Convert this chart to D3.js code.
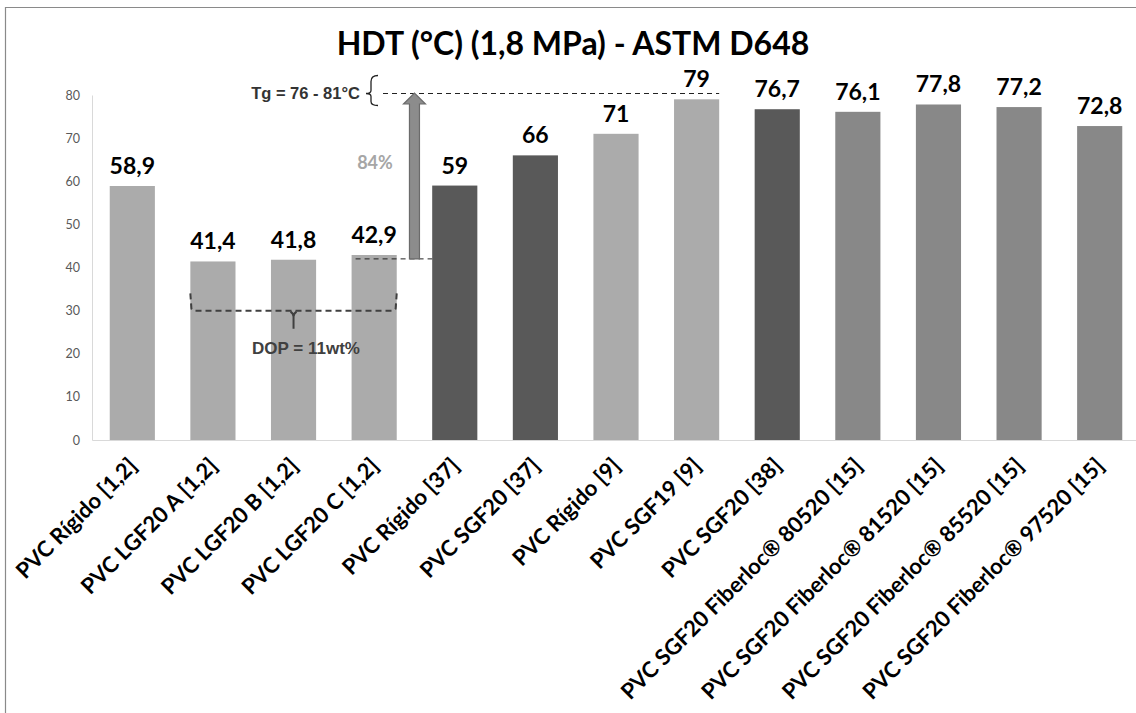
<!DOCTYPE html>
<html>
<head>
<meta charset="utf-8">
<script src="https://cdn.jsdelivr.net/npm/d3@7"></script>
<style>
  html, body { margin: 0; padding: 0; background: #fff; }
  svg { display: block; }
</style>
</head>
<body>
<svg id="chart" width="1136" height="713"></svg>
<script>
// ---- data ----
const categories = [
  "PVC Rígido [1,2]",
  "PVC LGF20 A [1,2]",
  "PVC LGF20 B [1,2]",
  "PVC LGF20 C [1,2]",
  "PVC Rígido [37]",
  "PVC SGF20 [37]",
  "PVC Rígido [9]",
  "PVC SGF19 [9]",
  "PVC SGF20 [38]",
  "PVC SGF20 Fiberloc® 80520 [15]",
  "PVC SGF20 Fiberloc® 81520 [15]",
  "PVC SGF20 Fiberloc® 85520 [15]",
  "PVC SGF20 Fiberloc® 97520 [15]"
];
const values = [58.9, 41.4, 41.8, 42.9, 59, 66, 71, 79, 76.7, 76.1, 77.8, 77.2, 72.8];
const valueLabels = ["58,9", "41,4", "41,8", "42,9", "59", "66", "71", "79", "76,7", "76,1", "77,8", "77,2", "72,8"];
const groups = ["light", "light", "light", "light", "dark", "dark", "light", "light", "dark", "medium", "medium", "medium", "medium"];
const yTicks = [0, 10, 20, 30, 40, 50, 60, 70, 80];
const titleText = "HDT (°C) (1,8 MPa) - ASTM D648";
const tgLabel = "Tg = 76 - 81°C";
const tgValue = 80;
const arrowFrom = 42;
const arrowLabel = "84%";
const dopLabel = "DOP = 11wt%";
const dopValue = 30;
const dopTop = 34;

// ---- layout ----
const svg = d3.select("#chart");
const W = 1136, H = 713;
const x0 = 92, x1 = 1140, yBase = 440, yTop = 95;

const x = d3.scaleBand().domain(categories).range([x0, x1]).paddingInner(0.44).paddingOuter(0.22);
const y = d3.scaleLinear().domain([0, 80]).range([yBase, yTop]);
const color = d3.scaleOrdinal().domain(["light", "dark", "medium"]).range(["#ababab", "#595959", "#888888"]);

const FONT = "Lato, 'Open Sans', sans-serif";
const ARIAL = "'Liberation Sans', Arial, sans-serif";

// frame
svg.append("path").attr("d", `M5.5,${H} V7.5 H${W}`).attr("fill", "none").attr("stroke", "#8a8a8a").attr("stroke-width", 1.2);

// title
svg.append("text").attr("x", 573).attr("y", 55).attr("text-anchor", "middle")
  .attr("font-family", FONT).attr("font-weight", "bold").attr("font-size", 32).attr("fill", "#000")
  .text(titleText);

// y axis
const yAxis = d3.axisLeft(y).tickValues(yTicks).tickSize(0).tickPadding(12);
const gy = svg.append("g").attr("transform", `translate(${x0},0)`).call(yAxis);
gy.select(".domain").attr("stroke", "#d9d9d9");
gy.selectAll("text").attr("font-family", FONT).attr("font-size", 12.5).attr("fill", "#595959");

// bars
svg.append("g").selectAll("rect").data(values).join("rect")
  .attr("x", (d, i) => x(categories[i]))
  .attr("y", d => y(d))
  .attr("width", x.bandwidth())
  .attr("height", d => y(0) - y(d))
  .attr("fill", (d, i) => color(groups[i]));

// x axis
const xAxis = d3.axisBottom(x).tickSize(0).tickFormat(() => "");
const gx = svg.append("g").attr("transform", `translate(0,${yBase})`).call(xAxis);
gx.select(".domain").attr("stroke", "#d9d9d9");

// x labels
svg.append("g").selectAll("text").data(categories).join("text")
  .attr("transform", d => `translate(${x(d) + x.bandwidth() / 2 + 6},${yBase + 27}) rotate(-45)`)
  .attr("text-anchor", "end")
  .attr("font-family", FONT).attr("font-weight", "bold").attr("font-size", 22).attr("fill", "#000")
  .text(d => d);

// value labels
svg.append("g").selectAll("text").data(values).join("text")
  .attr("x", (d, i) => x(categories[i]) + x.bandwidth() / 2)
  .attr("y", d => y(d) - 12)
  .attr("text-anchor", "middle")
  .attr("font-family", FONT).attr("font-weight", "bold").attr("font-size", 23).attr("fill", "#000")
  .text((d, i) => valueLabels[i]);

// ---- annotations ----
const ann = svg.append("g");
const c4 = x(categories[3]), c5 = x(categories[4]);
const arrowX = (c4 + x.bandwidth() + c5) / 2;

// Tg dashed line
const by = y(tgValue) - 1.5;
ann.append("line").attr("x1", 383).attr("x2", x(categories[7]) + x.bandwidth())
  .attr("y1", by).attr("y2", by)
  .attr("stroke", "#222").attr("stroke-width", 1).attr("stroke-dasharray", "5,4");
// brace
ann.append("path")
  .attr("d", `M378,${by - 18} Q371,${by - 18} 371,${by - 12} L371,${by - 3} Q371,${by} 366,${by} Q371,${by} 371,${by + 3} L371,${by + 8} Q371,${by + 12} 378,${by + 12}`)
  .attr("fill", "none").attr("stroke", "#222").attr("stroke-width", 1.3);
ann.append("text").attr("x", 360).attr("y", by + 5.5).attr("text-anchor", "end")
  .attr("font-family", ARIAL).attr("font-weight", "bold").attr("font-size", 16.5).attr("fill", "#333")
  .text(tgLabel);

// lower dashed line at arrow start
ann.append("line").attr("x1", c4 + 4).attr("x2", c5)
  .attr("y1", y(arrowFrom)).attr("y2", y(arrowFrom))
  .attr("stroke", "#222").attr("stroke-width", 1).attr("stroke-dasharray", "5,4");

// arrow
const yA0 = y(arrowFrom), yA1 = y(tgValue) - 2;
const sw = 5, hw = 11, hh = 11;
ann.append("path")
  .attr("d", `M${arrowX - sw},${yA0} V${yA1 + hh} H${arrowX - hw} L${arrowX},${yA1} L${arrowX + hw},${yA1 + hh} H${arrowX + sw} V${yA0} Z`)
  .attr("fill", "#8c8c8c").attr("stroke", "#6b6b6b").attr("stroke-width", 1.2);
ann.append("text").attr("x", 375).attr("y", 169).attr("text-anchor", "middle")
  .attr("font-family", FONT).attr("font-weight", "bold").attr("font-size", 18).attr("fill", "#a6a6a6")
  .text(arrowLabel);

// DOP bracket
const dx0 = x(categories[1]), dx1 = x(categories[3]) + x.bandwidth();
const dy = y(dopValue), dyTop = y(dopTop);
const dmid = (dx0 + dx1) / 2;
ann.append("path")
  .attr("d", `M${dx0},${dyTop} L${dx0 + 1},${dy - 3} Q${dx0 + 1},${dy} ${dx0 + 5},${dy} H${dx1 - 5} Q${dx1 - 1},${dy} ${dx1 - 1},${dy - 3} L${dx1},${dyTop}`)
  .attr("fill", "none").attr("stroke", "#404040").attr("stroke-width", 2).attr("stroke-dasharray", "6,4");
ann.append("path")
  .attr("d", `M${dmid - 3},${dy + 1} Q${dmid},${dy + 3} ${dmid},${dy + 6} V${dy + 18} M${dmid + 3},${dy + 1} Q${dmid},${dy + 3} ${dmid},${dy + 6}`)
  .attr("fill", "none").attr("stroke", "#404040").attr("stroke-width", 2);
ann.append("text").attr("x", 306).attr("y", 354).attr("text-anchor", "middle")
  .attr("font-family", ARIAL).attr("font-weight", "bold").attr("font-size", 17).attr("fill", "#404040")
  .text(dopLabel);
</script>
</body>
</html>
